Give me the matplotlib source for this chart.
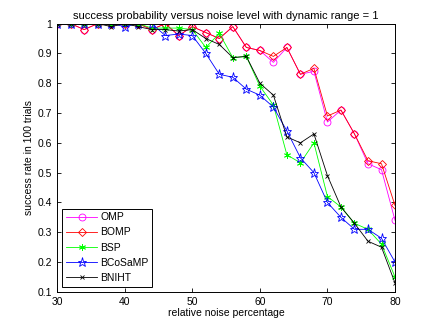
import matplotlib
matplotlib.use("Agg")
import matplotlib.pyplot as plt
import numpy as np

plt.rcParams['font.family'] = ['Liberation Sans', 'DejaVu Sans']

noise = [30, 32, 34, 36, 38, 40, 42, 44, 46, 48, 50, 52, 54, 56, 58, 60, 62, 64, 66, 68, 70, 72, 74, 76, 78, 80]
omp = [1, 1, 0.98, 1, 1, 1, 1, 0.98, 1, 0.96, 0.99, 0.97, 0.95, 0.99, 0.92, 0.91, 0.87, 0.92, 0.83, 0.84, 0.67, 0.71, 0.63, 0.53, 0.51, 0.34]
bomp = [1, 1, 0.98, 1, 1, 1, 1, 0.98, 1, 0.96, 0.99, 0.97, 0.95, 0.99, 0.92, 0.91, 0.89, 0.92, 0.83, 0.85, 0.69, 0.71, 0.63, 0.54, 0.53, 0.39]
bsp = [1, 1, 1, 1, 1, 1, 1, 0.985, 0.985, 0.985, 0.98, 0.92, 0.967, 0.886, 0.89, 0.79, 0.727, 0.56, 0.533, 0.60, 0.42, 0.385, 0.33, 0.31, 0.26, 0.15]
bcosamp = [1, 1, 1, 1, 1, 0.99, 1, 1, 0.96, 0.965, 0.96, 0.90, 0.83, 0.82, 0.78, 0.76, 0.72, 0.64, 0.55, 0.50, 0.40, 0.35, 0.31, 0.31, 0.28, 0.20]
bniht = [1, 1, 1, 1, 0.99, 1, 0.99, 0.98, 0.98, 0.975, 0.98, 0.95, 0.93, 0.886, 0.89, 0.80, 0.76, 0.62, 0.60, 0.63, 0.49, 0.385, 0.33, 0.27, 0.25, 0.13]

xticks = [30, 40, 50, 60, 70, 80]
yticks = [0.1, 0.2, 0.3, 0.4, 0.5, 0.6, 0.7, 0.8, 0.9, 1.0]
ytick_labels = ['0.1', '0.2', '0.3', '0.4', '0.5', '0.6', '0.7', '0.8', '0.9', '1']

fig = plt.figure(figsize=(4.36, 3.28), dpi=100)
ax = fig.add_axes([0.131, 0.110, 0.775, 0.818])

lw = 0.6
mew = 0.6
ax.plot(noise, omp, color='#ff00ff', marker='o', ms=5, mfc='none', mew=mew, lw=lw, label='OMP')
ax.plot(noise, bomp, color='#ff0000', marker='D', ms=4.2, mfc='none', mew=mew, lw=lw, label='BOMP')
ax.plot(noise, bsp, color='#00ff00', marker=(6, 2, 0), ms=5, mew=mew, lw=lw, label='BSP')
ax.plot(noise, bcosamp, color='#0000ff', marker='*', ms=6.5, mfc='none', mew=mew, lw=lw, label='BCoSaMP')
ax.plot(noise, bniht, color='black', marker='x', ms=3.5, mew=mew, lw=lw, label='BNIHT')

ax.set_xlim(30, 80)
ax.set_ylim(0.1, 1)
ax.set_xticks(xticks)
ax.set_yticks(yticks)
ax.set_yticklabels(ytick_labels)
ax.tick_params(direction='in', top=True, right=True, labelsize=7.5, length=3, width=0.6)
for s in ax.spines.values():
    s.set_linewidth(0.7)

ax.set_title('success probability versus noise level with dynamic range = 1', fontsize=8, pad=3)
ax.set_xlabel('relative noise percentage', fontsize=7.5, labelpad=1)
ax.set_ylabel('success rate in 100 trials', fontsize=7.5, labelpad=3)

leg = ax.legend(loc='lower left', fontsize=7.5, fancybox=False, framealpha=1,
                edgecolor='black', borderaxespad=0.5, handlelength=3.0,
                handletextpad=0.3, borderpad=0.35, labelspacing=0.5)
leg.get_frame().set_linewidth(0.7)

fig.savefig('out.png', dpi=100)
